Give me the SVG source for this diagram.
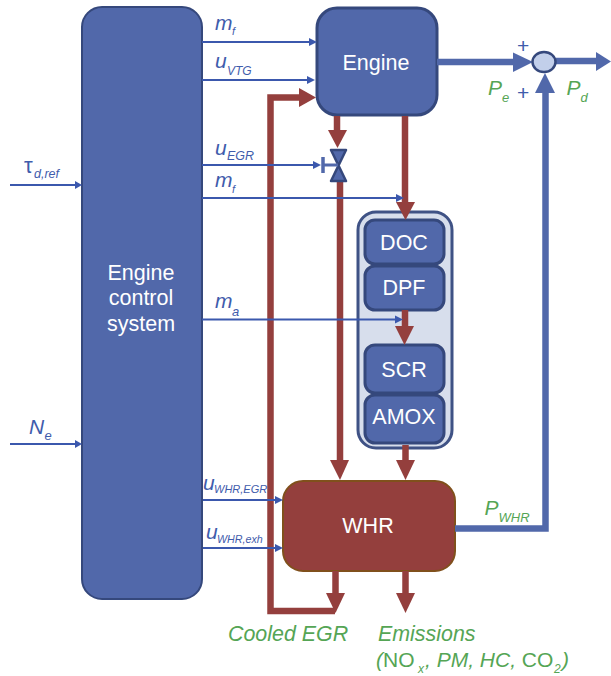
<svg xmlns="http://www.w3.org/2000/svg" width="611" height="676" viewBox="0 0 611 676">
<style>
text{font-family:"Liberation Sans",Arial,sans-serif}
.nt{fill:#fff;font-size:21.500px;text-anchor:middle}
.bl{fill:#3f5cac;font-style:italic}
.up{font-style:normal}
.gr{fill:#55a555;font-style:italic}
.box{fill:#5168aa;stroke:#35487c;stroke-width:3}
.red{fill:none;stroke:#943f3d;stroke-width:6.500}
.rh{fill:#943f3d}
.sig{fill:none;stroke:#3b58ad;stroke-width:2}
.sh{fill:#3b58ad}
.pw{fill:none;stroke:#5168aa;stroke-width:6.500}
.ph{fill:#5168aa}
</style>
<rect width="611" height="676" fill="#fff"/>
<g id="engine-control-system"><rect class="box" style="stroke-width:2" x="82" y="7" width="120" height="592" rx="20"/><text class="nt" x="141" y="280">Engine</text><text class="nt" x="141" y="305">control</text><text class="nt" x="141" y="331">system</text></g>
<g id="engine"><rect class="box" x="317" y="8" width="120" height="107" rx="20"/><text class="nt" x="376" y="70">Engine</text></g>
<g id="aftertreatment"><rect x="358" y="212" width="94" height="236" rx="18" fill="#d7deec" stroke="#3f5285" stroke-width="3"/></g>
<g id="doc"><rect class="box" x="365" y="220" width="79" height="44" rx="10"/><text class="nt" x="404" y="250">DOC</text></g>
<g id="dpf"><rect class="box" x="365" y="266" width="79" height="44" rx="10"/><text class="nt" x="404" y="295">DPF</text></g>
<g id="scr"><rect class="box" x="365" y="345" width="79" height="48" rx="10"/><text class="nt" x="404" y="377">SCR</text></g>
<g id="amox"><rect class="box" x="365" y="395" width="79" height="48" rx="10"/><text class="nt" x="404" y="424">AMOX</text></g>
<g id="whr"><rect x="283" y="481" width="172" height="90" rx="20" fill="#943f3d" stroke="#80501c" stroke-width="2"/><text class="nt" x="368" y="533">WHR</text></g>
<g id="connectors">
<path class="pw" d="M437 62H515"/><path class="ph" d="M513 52.500L533 62L513 72Z"/>
<path class="pw" d="M556 61H597"/><path class="ph" d="M596 52L611 61.500L596 71Z"/>
<path class="pw" d="M455 528.500H545.500V90"/><path class="ph" d="M535 93L545 73L555 93Z"/>
<path class="red" d="M337 116V135"/><path class="rh" d="M328 130H347L337.500 148Z"/>
<path class="red" d="M340 182V465"/><path class="rh" d="M330 460H349L340 480Z"/>
<path class="red" d="M405 116V205"/><path class="rh" d="M396 202H415L405.500 220Z"/>
<path class="red" d="M405 310V330"/><path class="rh" d="M395 326H414L404.500 345Z"/>
<path class="red" d="M405.500 445V465"/><path class="rh" d="M396 460H415L405.500 480Z"/>
<path class="red" d="M335.500 571V595"/><path class="rh" d="M326 593H345L335.500 613Z"/>
<path class="red" d="M405.500 571V595"/><path class="rh" d="M396 593H415L405.500 613Z"/>
<path class="red" d="M335 611H270.500V97.500H300"/><path class="rh" d="M299 88L316 97.500L299 107Z"/>
<path class="sig" d="M202 42H310"/><path class="sh" d="M309 38L317 42L309 46Z"/>
<path class="sig" d="M202 80H309"/><path class="sh" d="M307 76L315 80L307 84Z"/>
<path class="sig" d="M202 165H314"/><path class="sh" d="M313 161L321 165L313 169Z"/>
<path class="sig" d="M202 198H398"/><path class="sh" d="M396 194L404 198L396 202Z"/>
<path class="sig" d="M202 319.500H396"/><path class="sh" d="M395 315.500L403 319.500L395 323.500Z"/>
<path class="sig" d="M203 500H276"/><path class="sh" d="M275 496L283 500L275 504Z"/>
<path class="sig" d="M203 548H276"/><path class="sh" d="M275 544L283 548L275 552Z"/>
<path class="sig" d="M10 185H76"/><path class="sh" d="M75 181L82 185L75 189Z"/>
<path class="sig" d="M10 444H76"/><path class="sh" d="M75 440L82 444L75 448Z"/>
</g>
<g id="valve"><path d="M331 150H346L338.500 165.500L346 181H331L338.500 165.500Z" fill="#5168aa" stroke="#35487c" stroke-width="2.500" stroke-linejoin="round"/><path d="M323 157V173" stroke="#5168aa" stroke-width="3.500" fill="none"/><path d="M323 165H338" stroke="#5168aa" stroke-width="3" fill="none"/></g>
<g id="sum"><ellipse cx="544" cy="62" rx="11.500" ry="10" fill="#c2cfea" stroke="#35487c" stroke-width="2.500"/></g>
<g id="labels">
<text class="bl" x="215" y="30" font-size="21">m</text><text class="bl" x="232" y="35" font-size="11">f</text>
<text class="bl" x="215" y="68" font-size="21">u</text><text class="bl" x="227" y="75" font-size="12">VTG</text>
<text class="bl" x="215" y="155" font-size="21">u</text><text class="bl" x="227" y="160" font-size="12.500">EGR</text>
<text class="bl" x="215" y="187" font-size="21">m</text><text class="bl" x="232" y="193" font-size="11">f</text>
<text class="bl" x="215" y="308" font-size="21">m</text><text class="bl" x="232" y="316" font-size="13">a</text>
<text class="bl" x="203" y="490" font-size="21">u</text><text class="bl" x="214" y="493" font-size="11">WHR,EGR</text>
<text class="bl" x="206" y="539" font-size="21">u</text><text class="bl" x="217" y="543" font-size="10.700">WHR,exh</text>
<text class="bl up" x="24" y="173" font-size="22">τ</text><text class="bl" x="34" y="178" font-size="12.500">d,ref</text>
<text class="bl" x="29" y="434" font-size="21">N</text><text class="bl" x="44.500" y="440" font-size="13">e</text>
<text class="bl up" x="517" y="52.500" font-size="21">+</text>
<text class="bl up" x="517" y="99.500" font-size="21">+</text>
<text class="gr" x="488" y="95" font-size="21">P</text><text class="gr" x="502" y="102" font-size="13">e</text>
<text class="gr" x="566.500" y="95" font-size="21">P</text><text class="gr" x="580.500" y="102" font-size="13">d</text>
<text class="gr" x="484.500" y="515" font-size="21">P</text><text class="gr" x="498.500" y="521.500" font-size="13">WHR</text>
<text class="gr" x="228" y="641" font-size="21.400">Cooled EGR</text>
<text class="gr" x="378" y="641" font-size="21.400">Emissions</text>
<text class="gr" x="376" y="667" font-size="21">(<tspan class="up" style="font-style:normal">NO</tspan></text><text class="gr" x="418" y="673" font-size="12">x</text><text class="gr" x="425" y="667" font-size="21">, PM, HC, <tspan style="font-style:normal">CO</tspan></text><text class="gr" x="554" y="673" font-size="12">2</text><text class="gr" x="562" y="667" font-size="21">)</text>
</g>
</svg>
